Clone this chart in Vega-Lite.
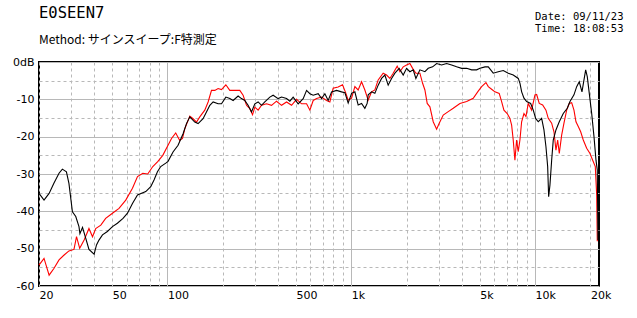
{
  "$schema": "https://vega.github.io/schema/vega-lite/v6.json",
  "width": 560,
  "height": 224,
  "autosize": "none",
  "padding": {"left": 39, "top": 62, "right": 38, "bottom": 32},
  "background": "white",
  "config": {
    "view": {"stroke": "black", "strokeWidth": 2},
    "font": "Noto Sans CJK JP"
  },
  "title": {
    "text": "E0SEEN7",
    "subtitle": "Method:  サインスイープ:F特測定",
    "anchor": "start",
    "frame": "group",
    "font": "DejaVu Sans Mono",
    "fontSize": 15.5,
    "fontWeight": "normal",
    "color": "black",
    "subtitleFont": "Noto Sans CJK JP",
    "subtitleFontSize": 12,
    "subtitleColor": "black",
    "subtitlePadding": 14,
    "offset": 0,
    "dy": 35
  },
  "datasets": {
    "red": [
      {"f":20,"db":-54.4},{"f":21.3,"db":-52.6},{"f":22.7,"db":-57.1},{"f":24.1,"db":-55.3},{"f":25.7,"db":-53.0},{"f":27.4,"db":-51.7},{"f":29.1,"db":-50.6},{"f":31.0,"db":-50.2},{"f":32.0,"db":-46.8},{"f":33.3,"db":-49.9},{"f":35.2,"db":-47.7},{"f":37.4,"db":-44.6},{"f":39.1,"db":-46.8},{"f":40.7,"db":-44.6},{"f":43.4,"db":-43.7},{"f":46.1,"db":-41.9},{"f":50.2,"db":-40.5},{"f":54.5,"db":-39.2},{"f":59.3,"db":-37.0},{"f":64.5,"db":-33.8},{"f":68.7,"db":-30.7},{"f":73.4,"db":-29.8},{"f":78.1,"db":-30.0},{"f":83.2,"db":-28.0},{"f":88.5,"db":-26.7},{"f":94.3,"db":-25.0},{"f":100.7,"db":-22.3},{"f":105.2,"db":-20.5},{"f":110.9,"db":-19.0},{"f":116.6,"db":-21.0},{"f":120.7,"db":-20.5},{"f":124.2,"db":-17.9},{"f":132.3,"db":-14.5},{"f":137.9,"db":-15.2},{"f":143.9,"db":-16.1},{"f":149.9,"db":-14.7},{"f":159.6,"db":-12.9},{"f":166.4,"db":-10.7},{"f":173.6,"db":-7.6},{"f":181.0,"db":-7.6},{"f":188.6,"db":-7.1},{"f":196.8,"db":-7.4},{"f":207.8,"db":-6.1},{"f":218.4,"db":-7.6},{"f":232.5,"db":-7.6},{"f":247.5,"db":-7.6},{"f":258.0,"db":-8.9},{"f":269.2,"db":-11.6},{"f":280.6,"db":-12.5},{"f":290.3,"db":-14.1},{"f":298.8,"db":-12.1},{"f":311.4,"db":-12.9},{"f":324.9,"db":-11.6},{"f":345.9,"db":-11.2},{"f":368.3,"db":-11.6},{"f":392.0,"db":-10.5},{"f":417.5,"db":-11.6},{"f":444.6,"db":-10.7},{"f":473.3,"db":-11.6},{"f":503.9,"db":-10.0},{"f":536.5,"db":-11.2},{"f":571.3,"db":-11.2},{"f":595.5,"db":-12.9},{"f":620.7,"db":-10.3},{"f":647.6,"db":-9.8},{"f":689.4,"db":-9.4},{"f":733.6,"db":-10.3},{"f":764.8,"db":-10.7},{"f":797.1,"db":-7.0},{"f":848.6,"db":-6.7},{"f":896.8,"db":-6.1},{"f":935.0,"db":-8.4},{"f":962.2,"db":-10.2},{"f":1003.8,"db":-9.7},{"f":1046.2,"db":-6.6},{"f":1090.4,"db":-7.5},{"f":1137.7,"db":-5.3},{"f":1185.8,"db":-7.5},{"f":1236.0,"db":-10.2},{"f":1289.7,"db":-8.0},{"f":1344.0,"db":-7.5},{"f":1401.0,"db":-4.8},{"f":1491.5,"db":-3.0},{"f":1556.4,"db":-3.5},{"f":1622.3,"db":-4.4},{"f":1690.9,"db":-3.0},{"f":1777.8,"db":-1.1},{"f":1838.9,"db":-2.6},{"f":1917.0,"db":-1.3},{"f":2000,"db":-0.8},{"f":2084.5,"db":-0.4},{"f":2156.6,"db":-1.7},{"f":2247.5,"db":-3.0},{"f":2363.0,"db":-3.0},{"f":2444.6,"db":-5.7},{"f":2516.0,"db":-7.5},{"f":2589.5,"db":-11.1},{"f":2678.6,"db":-12.0},{"f":2791.8,"db":-16.0},{"f":2913.7,"db":-18.0},{"f":3010.3,"db":-16.4},{"f":3165.3,"db":-14.2},{"f":3370.1,"db":-13.3},{"f":3587.8,"db":-12.4},{"f":3901.4,"db":-11.1},{"f":4243.6,"db":-10.6},{"f":4609.0,"db":-9.7},{"f":4906.3,"db":-7.8},{"f":5120.6,"db":-6.6},{"f":5404.0,"db":-5.5},{"f":5565,"db":-6.6},{"f":5803,"db":-7.3},{"f":6048.6,"db":-8.0},{"f":6382.6,"db":-8.4},{"f":6578.1,"db":-10.6},{"f":6770.2,"db":-12.9},{"f":7055.5,"db":-13.8},{"f":7298.3,"db":-15.1},{"f":7456.3,"db":-16.9},{"f":7607.0,"db":-20.9},{"f":7770.2,"db":-26.3},{"f":7938.3,"db":-20.9},{"f":8098.5,"db":-24.0},{"f":8273.9,"db":-20.9},{"f":8451.6,"db":-16.0},{"f":8703,"db":-13.8},{"f":8920.6,"db":-14.6},{"f":9181.2,"db":-11.1},{"f":9580.8,"db":-12.9},{"f":9986.5,"db":-8.8},{"f":10202,"db":-8.7},{"f":10539,"db":-11.1},{"f":10998,"db":-11.5},{"f":11463,"db":-12.9},{"f":11798,"db":-15.1},{"f":12312,"db":-16.4},{"f":12675,"db":-18.7},{"f":12993,"db":-23.6},{"f":13276,"db":-20.9},{"f":13544,"db":-24.5},{"f":13956,"db":-19.6},{"f":14364,"db":-16.4},{"f":14858,"db":-12.9},{"f":15351,"db":-11.1},{"f":15819,"db":-10.9},{"f":16282,"db":-12.9},{"f":16696,"db":-16.0},{"f":17185,"db":-17.3},{"f":17711,"db":-18.7},{"f":18296,"db":-20.9},{"f":19093,"db":-23.1},{"f":19900,"db":-24.5},{"f":20585,"db":-26.3},{"f":21268,"db":-28.0},{"f":21644,"db":-35.6},{"f":21805,"db":-48.0}
    ],
    "black": [
      {"f":20,"db":-35.2},{"f":21.3,"db":-37.0},{"f":22.7,"db":-35.2},{"f":24.1,"db":-32.5},{"f":25.7,"db":-29.8},{"f":26.8,"db":-28.7},{"f":28.2,"db":-29.4},{"f":29.1,"db":-32.5},{"f":30.4,"db":-40.1},{"f":31.7,"db":-41.4},{"f":33.0,"db":-44.1},{"f":33.4,"db":-46.0},{"f":34.5,"db":-44.3},{"f":35.9,"db":-47.2},{"f":37.4,"db":-50.2},{"f":39.9,"db":-51.5},{"f":41.1,"db":-49.0},{"f":42.4,"db":-47.7},{"f":44.3,"db":-46.3},{"f":47.1,"db":-45.4},{"f":50.2,"db":-44.1},{"f":53.4,"db":-43.2},{"f":57.3,"db":-41.9},{"f":60.6,"db":-40.5},{"f":64.5,"db":-37.9},{"f":68.7,"db":-35.6},{"f":76.2,"db":-34.7},{"f":81.1,"db":-33.4},{"f":84.5,"db":-31.6},{"f":88.2,"db":-29.4},{"f":91.9,"db":-28.0},{"f":97.9,"db":-27.1},{"f":100.7,"db":-26.6},{"f":107.2,"db":-24.1},{"f":114.2,"db":-22.3},{"f":121.6,"db":-19.2},{"f":126.9,"db":-16.5},{"f":132.3,"db":-14.7},{"f":140.8,"db":-16.1},{"f":146.8,"db":-16.5},{"f":156.2,"db":-15.2},{"f":163.0,"db":-13.4},{"f":170.0,"db":-11.6},{"f":177.2,"db":-10.7},{"f":188.6,"db":-11.2},{"f":196.8,"db":-11.2},{"f":207.8,"db":-9.4},{"f":218.4,"db":-9.8},{"f":227.6,"db":-10.3},{"f":242.3,"db":-9.1},{"f":252.8,"db":-9.8},{"f":263.5,"db":-10.3},{"f":274.6,"db":-11.6},{"f":286.6,"db":-13.4},{"f":298.8,"db":-11.2},{"f":311.4,"db":-10.7},{"f":324.9,"db":-11.6},{"f":338.6,"db":-10.7},{"f":360.6,"db":-9.4},{"f":375.8,"db":-8.9},{"f":400,"db":-9.8},{"f":417.5,"db":-9.4},{"f":444.6,"db":-9.8},{"f":463.3,"db":-10.5},{"f":482.9,"db":-9.4},{"f":514.1,"db":-11.2},{"f":547.5,"db":-9.8},{"f":571.3,"db":-7.6},{"f":595.5,"db":-8.5},{"f":620.7,"db":-8.9},{"f":660.7,"db":-8.5},{"f":689.4,"db":-9.8},{"f":718.6,"db":-8.5},{"f":748.9,"db":-10.3},{"f":781.5,"db":-8.0},{"f":832,"db":-7.6},{"f":885.9,"db":-8.0},{"f":923.2,"db":-8.2},{"f":962.2,"db":-11.0},{"f":1003.8,"db":-8.4},{"f":1046.2,"db":-8.0},{"f":1090.4,"db":-11.5},{"f":1137.7,"db":-11.1},{"f":1185.8,"db":-12.4},{"f":1220.4,"db":-11.1},{"f":1236,"db":-8.8},{"f":1289.7,"db":-8.0},{"f":1344,"db":-8.4},{"f":1401,"db":-6.2},{"f":1462,"db":-4.4},{"f":1523.8,"db":-3.5},{"f":1588,"db":-6.2},{"f":1657.3,"db":-4.4},{"f":1727.4,"db":-3.0},{"f":1823,"db":-1.7},{"f":1917,"db":-3.5},{"f":2000,"db":-1.7},{"f":2084.5,"db":-2.6},{"f":2172.5,"db":-2.1},{"f":2247.5,"db":-4.4},{"f":2363,"db":-2.1},{"f":2516,"db":-2.6},{"f":2622.5,"db":-1.7},{"f":2771,"db":-1.3},{"f":2913.7,"db":-0.4},{"f":3101,"db":-0.8},{"f":3302,"db":-0.4},{"f":3515.6,"db":-0.8},{"f":3742.9,"db":-1.3},{"f":3985,"db":-1.7},{"f":4243.6,"db":-1.7},{"f":4517.8,"db":-2.1},{"f":4809.7,"db":-2.1},{"f":5016,"db":-1.7},{"f":5340,"db":-1.3},{"f":5565,"db":-1.3},{"f":5923,"db":-3.0},{"f":6306,"db":-2.6},{"f":6715,"db":-2.3},{"f":7150,"db":-3.0},{"f":7610,"db":-3.5},{"f":8103,"db":-4.4},{"f":8279,"db":-5.7},{"f":8456,"db":-8.0},{"f":8703,"db":-9.7},{"f":9003,"db":-10.6},{"f":9464,"db":-11.1},{"f":9778,"db":-12.9},{"f":10075,"db":-15.1},{"f":10409,"db":-16.0},{"f":10862,"db":-15.1},{"f":11179,"db":-18.2},{"f":11463,"db":-22.7},{"f":11711,"db":-28.0},{"f":11858,"db":-36.1},{"f":12053,"db":-32.9},{"f":12312,"db":-26.3},{"f":12561,"db":-20.9},{"f":12993,"db":-18.2},{"f":13544,"db":-16.0},{"f":14240,"db":-13.8},{"f":14973,"db":-12.4},{"f":15488,"db":-10.6},{"f":16282,"db":-8.8},{"f":16842,"db":-6.6},{"f":17401,"db":-5.3},{"f":18000,"db":-8.0},{"f":18458,"db":-4.8},{"f":18854,"db":-2.1},{"f":19235,"db":-3.9},{"f":19724,"db":-8.4},{"f":20330,"db":-13.8},{"f":20925,"db":-20.0},{"f":21456,"db":-26.3},{"f":21805,"db":-28.9},{"f":22000,"db":-47.7}
    ]
  },
  "resolve": {"axis": {"x": "independent"}},
  "layer": [
    {
      "data": {"name": "red"},
      "mark": {"type": "line", "color": "#ff0000", "strokeWidth": 1.1, "interpolate": "linear"},
      "encoding": {
        "x": {
          "field": "f", "type": "quantitative",
          "scale": {"type": "log", "domain": [20, 22280], "nice": false, "zero": false},
          "axis": {
            "orient": "bottom",
            "values": [20,30,40,50,60,70,80,90,100,200,300,400,500,600,700,800,900,1000,2000,3000,4000,5000,6000,7000,8000,9000,10000,20000],
            "labelExpr": "indexof([20,50,100,500],datum.value) >= 0 ? '' + datum.value : (indexof([1000,5000,10000,20000],datum.value) >= 0 ? (datum.value/1000) + 'k' : '')",
            "labelOverlap": false,
            "labelFlush": false,
            "labelAlign": "left",
            "labelFont": "DejaVu Sans",
            "labelFontSize": 11,
            "labelColor": "black",
            "labelPadding": 3,
            "ticks": false,
            "domain": false,
            "grid": true,
            "gridColor": "#b8b8b8",
            "gridWidth": 1,
            "gridDash": {"condition": {"test": "datum.value == 100 || datum.value == 1000 || datum.value == 10000", "value": []}, "value": [3, 3]},
            "title": null
          }
        },
        "y": {
          "field": "db", "type": "quantitative",
          "scale": {"domain": [-60, 0], "nice": false},
          "axis": {
            "values": [-60,-55,-50,-45,-40,-35,-30,-25,-20,-15,-10,-5,0],
            "labelExpr": "datum.value % 10 == 0 ? (datum.value == 0 ? '0dB' : '' + datum.value) : ''",
            "labelFont": "DejaVu Sans",
            "labelFontSize": 11,
            "labelColor": "black",
            "labelPadding": 5,
            "labelOverlap": false,
            "labelFlush": false,
            "ticks": false,
            "domain": false,
            "grid": true,
            "gridColor": "#b8b8b8",
            "gridWidth": 1,
            "gridDash": {"condition": {"test": "datum.value % 10 == 0", "value": []}, "value": [3, 3]},
            "title": null
          }
        }
      }
    },
    {
      "data": {"name": "black"},
      "mark": {"type": "line", "color": "#000000", "strokeWidth": 1.1, "interpolate": "linear"},
      "encoding": {
        "x": {
          "field": "f", "type": "quantitative",
          "axis": {
            "orient": "top",
            "labels": false,
            "ticks": false,
            "domain": false,
            "grid": false,
            "title": ["Date: 09/11/23", "Time: 18:08:53"],
            "titleFont": "DejaVu Sans Mono",
            "titleFontSize": 10.5,
            "titleFontWeight": "normal",
            "titleColor": "black",
            "titleAlign": "right",
            "titleAngle": 0,
            "titleBaseline": "top",
            "titleLineHeight": 12,
            "titleX": 584,
            "titleY": -51
          }
        },
        "y": {
          "field": "db", "type": "quantitative",
          "axis": {
            "values": [-60,-55,-50,-45,-40,-35,-30,-25,-20,-15,-10,-5,0],
            "labelExpr": "datum.value % 10 == 0 ? (datum.value == 0 ? '0dB' : '' + datum.value) : ''",
            "labelFont": "DejaVu Sans",
            "labelFontSize": 11,
            "labelColor": "black",
            "labelPadding": 5,
            "labelOverlap": false,
            "labelFlush": false,
            "ticks": false,
            "domain": false,
            "grid": true,
            "gridColor": "#b8b8b8",
            "gridWidth": 1,
            "gridDash": {"condition": {"test": "datum.value % 10 == 0", "value": []}, "value": [3, 3]},
            "title": null
          }
        }
      }
    }
  ]
}
